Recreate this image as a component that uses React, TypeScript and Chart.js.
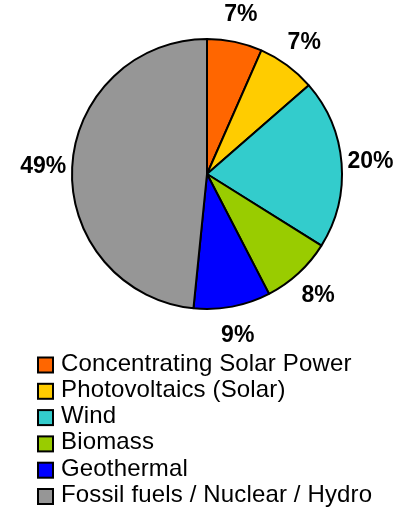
import React, { useEffect, useRef } from "react";
import { Chart, registerables } from "chart.js";

Chart.register(...registerables);

const categories = [
  "Concentrating Solar Power",
  "Photovoltaics (Solar)",
  "Wind",
  "Biomass",
  "Geothermal",
  "Fossil fuels / Nuclear / Hydro",
];
const shares = [6.6, 7.0, 20.3, 8.5, 9.2, 48.4];
const shareLabels = ["7%", "7%", "20%", "8%", "9%", "49%"];
const colors = ["#FF6600", "#FFCC00", "#33CCCC", "#99CC00", "#0000FF", "#969696"];

const FONT = "'Liberation Sans', Arial, sans-serif";

const sliceLabelPlugin = {
  id: "sliceLabels",
  afterDatasetsDraw(chart: any) {
    const ctx = chart.ctx;
    const meta = chart.getDatasetMeta(0);
    ctx.save();
    ctx.font = `bold 23px ${FONT}`;
    ctx.fillStyle = "#000";
    ctx.textAlign = "center";
    ctx.textBaseline = "middle";
    meta.data.forEach((arc: any, i: number) => {
      const p = arc.getProps(["x", "y", "startAngle", "endAngle", "outerRadius"], true);
      const mid = (p.startAngle + p.endAngle) / 2;
      const r = p.outerRadius + 29;
      ctx.fillText(shareLabels[i], p.x + Math.cos(mid) * r, p.y + Math.sin(mid) * r + 1);
    });
    ctx.restore();
  },
};

const legendPlugin = {
  id: "listLegend",
  afterDraw(chart: any) {
    const ctx = chart.ctx;
    const labels = chart.data.labels as string[];
    const bg = chart.data.datasets[0].backgroundColor as string[];
    ctx.save();
    ctx.font = `24px ${FONT}`;
    try { (ctx as any).letterSpacing = "0.15px"; } catch (e) {}
    ctx.textAlign = "left";
    ctx.textBaseline = "alphabetic";
    labels.forEach((lab, i) => {
      const cy = 365 + i * 26.3;
      ctx.fillStyle = bg[i];
      ctx.fillRect(38, cy - 7.5, 15, 15);
      ctx.lineWidth = 2;
      ctx.strokeStyle = "#000";
      ctx.strokeRect(38, cy - 7.5, 15, 15);
      ctx.fillStyle = "#000";
      ctx.fillText(lab, 61, cy + 5.5);
    });
    ctx.restore();
  },
};

export default function App() {
  const ref = useRef<HTMLCanvasElement | null>(null);
  useEffect(() => {
    if (!ref.current) return;
    const chart = new Chart(ref.current, {
      type: "pie",
      data: {
        labels: categories,
        datasets: [
          {
            data: shares,
            backgroundColor: colors,
            borderColor: "#000",
            borderWidth: 2,
          },
        ],
      },
      options: {
        animation: false,
        responsive: true,
        maintainAspectRatio: false,
        layout: { padding: { left: 71, right: 57, top: 38, bottom: 197 } },
        plugins: {
          legend: { display: false },
          tooltip: { enabled: false },
        },
      },
      plugins: [sliceLabelPlugin, legendPlugin],
    });
    return () => chart.destroy();
  }, []);
  return (
    <div style={{ position: "fixed", left: 0, top: 0, width: 400, height: 507, background: "#fff" }}>
      <canvas ref={ref} />
    </div>
  );
}
